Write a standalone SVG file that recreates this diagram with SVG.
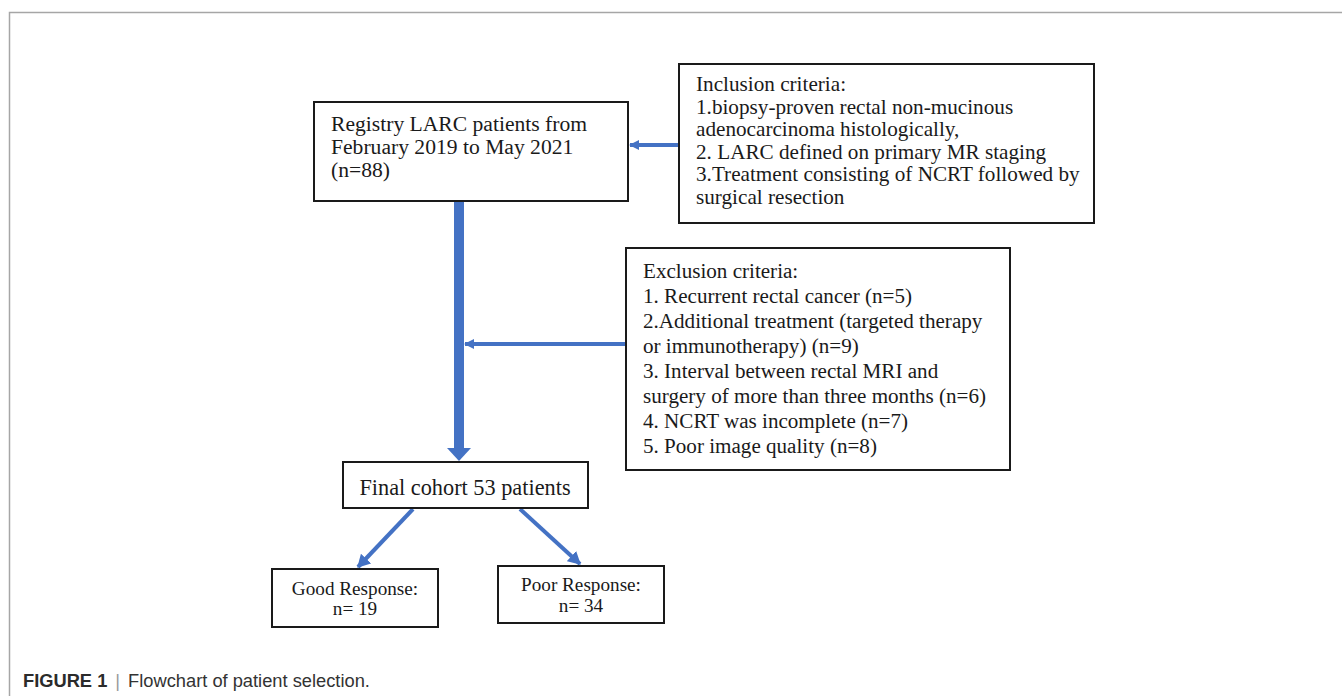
<svg xmlns="http://www.w3.org/2000/svg" width="1342" height="696" viewBox="0 0 1342 696">
<style>
.box{fill:#fff;stroke:#1a1a1a;stroke-width:2}
.t{font-family:"Liberation Serif","Times New Roman",serif;fill:#1a1a1a}
.conn{stroke:#4472C4;fill:none}
.cap{font-family:"Liberation Sans",Arial,sans-serif;font-size:18.3px;fill:#333}
</style>
<defs>
<marker id="ah" markerUnits="userSpaceOnUse" markerWidth="14" markerHeight="14" refX="10" refY="6" orient="auto" viewBox="0 0 12 12">
<path d="M0,0 L11,6 L0,12 Z" fill="#4472C4"/>
</marker>
<marker id="ahs" markerUnits="userSpaceOnUse" markerWidth="10" markerHeight="10" refX="9" refY="5" orient="auto" viewBox="0 0 10 10">
<path d="M0,0 L10,5 L0,10 Z" fill="#4472C4"/>
</marker>
</defs>
<rect width="1342" height="696" fill="#fff"/>
<path d="M9.5,696 V12.5 H1342" fill="none" stroke="#a6a6a6" stroke-width="1.5"/>

<g id="connectors">
<line class="conn" x1="459" y1="201" x2="459" y2="449" stroke-width="10"/>
<path d="M447,448 L471,448 L459,461 Z" fill="#4472C4"/>
<line class="conn" x1="679" y1="145" x2="630" y2="145" stroke-width="4" marker-end="url(#ahs)"/>
<line class="conn" x1="626" y1="344" x2="465" y2="344" stroke-width="4" marker-end="url(#ahs)"/>
<line class="conn" x1="413" y1="509" x2="358" y2="567" stroke-width="4" marker-end="url(#ah)"/>
<line class="conn" x1="520" y1="509" x2="580" y2="564" stroke-width="4" marker-end="url(#ah)"/>
</g>

<g id="registry">
<rect class="box" x="314" y="102" width="314" height="99"/>
<text class="t" font-size="21.6"><tspan x="331" y="131">Registry LARC patients from</tspan><tspan x="331" y="154">February 2019 to May 2021</tspan><tspan x="331" y="177">(n=88)</tspan></text>
</g>

<g id="inclusion">
<rect class="box" x="679" y="64" width="415" height="159"/>
<text class="t" font-size="21.2"><tspan x="696" y="91">Inclusion criteria:</tspan><tspan x="696" y="113.5">1.biopsy-proven rectal non-mucinous</tspan><tspan x="696" y="136">adenocarcinoma histologically,</tspan><tspan x="696" y="158.5">2. LARC defined on primary MR staging</tspan><tspan x="696" y="181">3.Treatment consisting of NCRT followed by</tspan><tspan x="696" y="203.5">surgical resection</tspan></text>
</g>

<g id="exclusion">
<rect class="box" x="626" y="248" width="384" height="222"/>
<text class="t" font-size="21.1"><tspan x="643" y="278">Exclusion criteria:</tspan><tspan x="643" y="303">1. Recurrent rectal cancer (n=5)</tspan><tspan x="643" y="328">2.Additional treatment (targeted therapy</tspan><tspan x="643" y="353">or immunotherapy) (n=9)</tspan><tspan x="643" y="378">3. Interval between rectal MRI and</tspan><tspan x="643" y="403">surgery of more than three months (n=6)</tspan><tspan x="643" y="428">4. NCRT was incomplete (n=7)</tspan><tspan x="643" y="453">5. Poor image quality (n=8)</tspan></text>
</g>

<g id="final">
<rect class="box" x="343" y="462" width="245" height="46"/>
<text class="t" font-size="22.3" x="465" y="495" text-anchor="middle">Final cohort 53 patients</text>
</g>

<g id="good">
<rect class="box" x="272" y="569" width="166" height="58"/>
<text class="t" font-size="19.2" text-anchor="middle"><tspan x="355" y="595">Good Response:</tspan><tspan x="355" y="615">n= 19</tspan></text>
</g>

<g id="poor">
<rect class="box" x="498" y="566" width="166" height="57"/>
<text class="t" font-size="19.2" text-anchor="middle"><tspan x="581" y="591">Poor Response:</tspan><tspan x="581" y="612">n= 34</tspan></text>
</g>

<g id="caption">
<text class="cap" x="23" y="687"><tspan font-weight="bold" fill="#2b2b2b">FIGURE 1</tspan><tspan fill="#999" dx="8">|</tspan><tspan dx="8">Flowchart of patient selection.</tspan></text>
</g>
</svg>
